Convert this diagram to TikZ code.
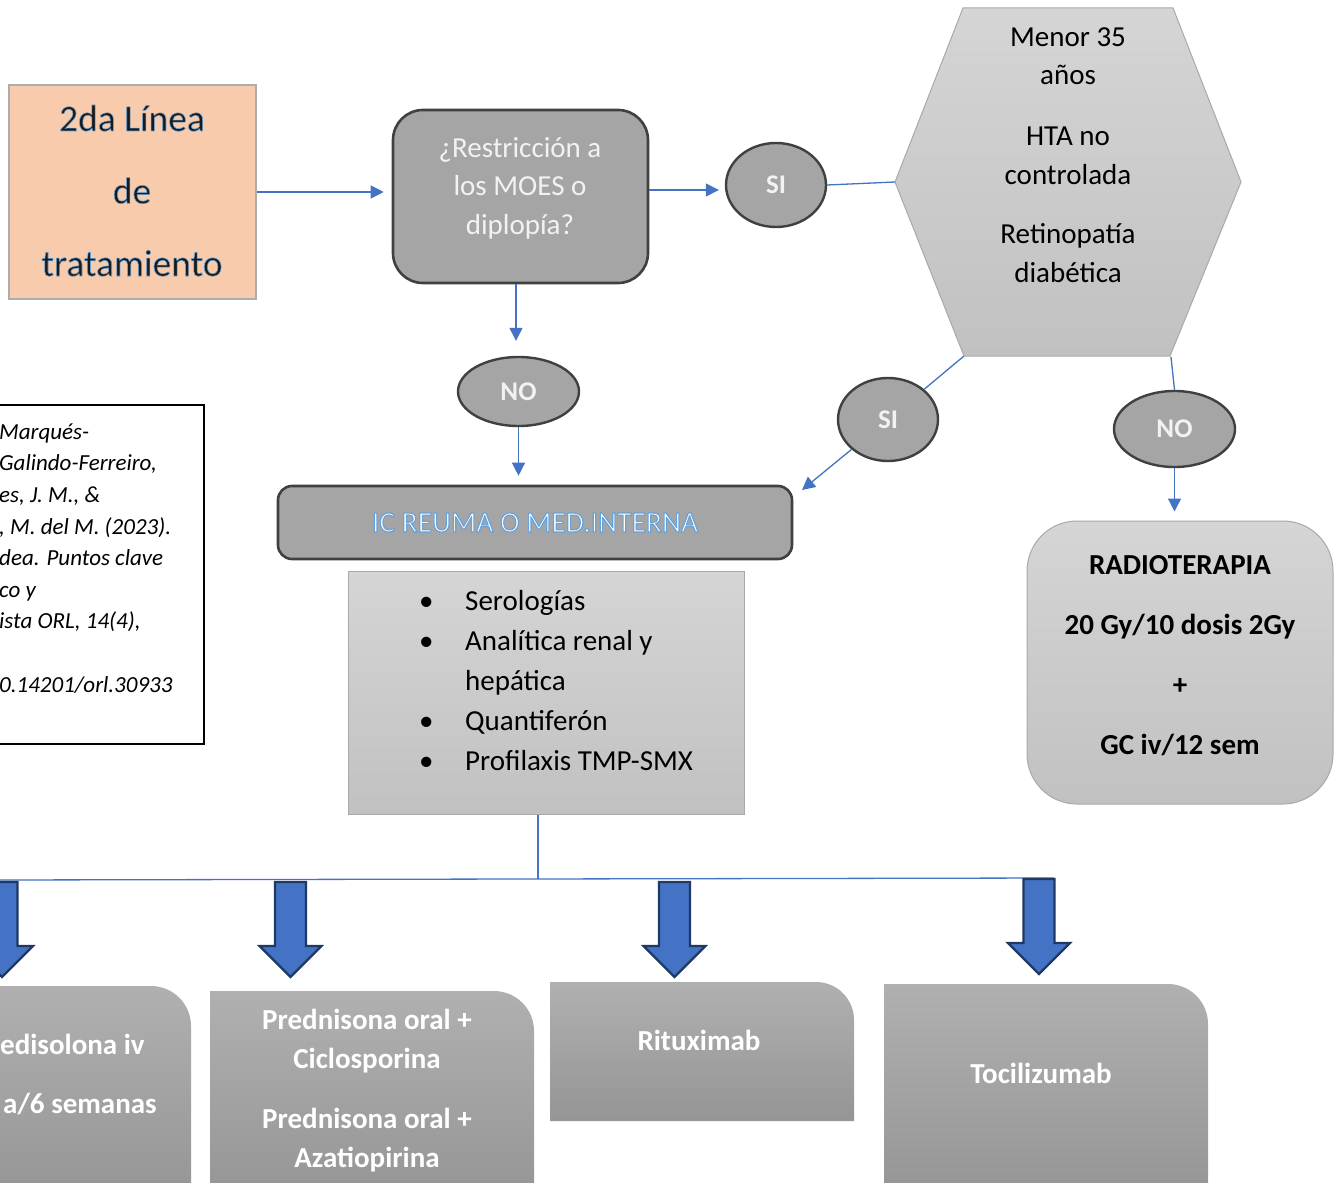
\documentclass[tikz,border=0pt]{standalone}
\usepackage{fontspec}
\setmainfont{Carlito}
\usetikzlibrary{shapes.geometric,arrows.meta}
\definecolor{peach}{HTML}{F8CBAD}
\definecolor{peachline}{HTML}{ADADAD}
\definecolor{cblue}{HTML}{4472C4}
\definecolor{navy}{HTML}{1F3864}
\definecolor{mgray}{HTML}{A5A5A5}
\definecolor{dgray}{HTML}{404040}
\definecolor{lgtop}{HTML}{D5D5D5}
\definecolor{lgbot}{HTML}{C1C1C1}
\definecolor{lgline}{HTML}{A9A9A9}
\definecolor{btop}{HTML}{B0B0B0}
\definecolor{bbot}{HTML}{959595}
\definecolor{wtext}{HTML}{F2F2F2}
\definecolor{ttext}{HTML}{1A1A1A}
\definecolor{icfill}{HTML}{FFFFFF}
\newcommand{\bluegl}[2]{{\special{pdf:literal direct 0.40 0.64 0.86 RG #1 w 1 j 2 Tr}#2\special{pdf:literal direct 0 Tr}}}
\begin{document}
\begin{tikzpicture}[x=1pt,y=-1pt,
  conn/.style={draw=cblue,line width=1.3pt},
  arr/.style={conn,-{Triangle[length=13pt,width=13pt]}},
  oval/.style={ellipse,draw=dgray,line width=2.4pt,fill=mgray,inner sep=0,text=wtext,font=\bfseries\fontsize{27}{30}\selectfont},
  darkbox/.style={draw=dgray,line width=2.6pt,fill=mgray,inner sep=0},
  lightbox/.style={draw=lgline,line width=1pt,top color=lgtop,bottom color=lgbot,inner sep=0},
  barrow/.style={fill=cblue,draw=navy,line width=2.2pt,line join=miter},
  bbox/.style={top color=btop,bottom color=bbot},
  btext/.style={inner sep=0,text=white,font=\bfseries\fontsize{29}{39}\selectfont}]
\useasboundingbox (0,0) rectangle (1337,1182);
\clip (0,0) rectangle (1337,1182);

% title
\node[draw=peachline,line width=1.2pt,fill=peach,minimum width=247pt,minimum height=214pt,inner sep=0] (title) at (132.5,192) {};
\node[anchor=base,align=center,inner sep=0,text=ttext,font=\fontsize{37.5}{72.5}\selectfont] (titlet) at (132,276) {\bluegl{0.6}{2da Línea}\\\bluegl{0.6}{de}\\\bluegl{0.6}{tratamiento}};

% decision
\node[darkbox,rounded corners=30pt,minimum width=255pt,minimum height=173pt] (q) at (520.5,196.5) {};
\node[anchor=base,align=center,inner sep=0,text=wtext,font=\fontsize{29}{38.5}\selectfont] (qt) at (520,234) {¿Restricción a\\los MOES o\\diplopía?};

% ovals
\node[oval,minimum width=100pt,minimum height=84pt] (si1) at (776,185) {SI};
\node[oval,minimum width=121pt,minimum height=69pt] (no1) at (518.5,391.5) {NO};
\node[oval,minimum width=100pt,minimum height=83pt] (si2) at (888,419.5) {SI};
\node[oval,minimum width=121pt,minimum height=76pt] (no2) at (1174.5,429) {NO};

% hexagon
\coordinate (hexL) at (895,182);
\coordinate (hexBL) at (964,356);
\coordinate (hexB) at (1171,357);
\path[draw=lgline,line width=1pt,top color=lgtop,bottom color=lgbot] (963,8) -- (1173,8) -- (1241,182) -- (1170,356) -- (hexBL) -- (hexL) -- cycle;
\node[anchor=base,align=center,inner sep=0,font=\fontsize{29}{39}\selectfont] (hex) at (1068,282) {Menor 35\\años\\[21pt]HTA no\\controlada\\[20pt]Retinopatía\\diabética};

% radiotherapy
\node[lightbox,rounded corners=50pt,minimum width=306pt,minimum height=283pt] (radio) at (1180,662.5) {};
\node[anchor=base,align=center,inner sep=0,font=\bfseries\fontsize{29}{60}\selectfont] (radiot) at (1180,754) {RADIOTERAPIA\\20 Gy/10 dosis 2Gy\\+\\GC iv/12 sem};

% IC box
\node[darkbox,rounded corners=14pt,minimum width=514pt,minimum height=73pt,text=icfill,font=\fontsize{29.5}{32}\selectfont] (ic) at (535,522.5) {\bluegl{1.2}{IC REUMA O MED.INTERNA}};

% list
\node[lightbox,minimum width=396pt,minimum height=243pt] (list) at (546,692.5) {};
\node[anchor=base west,align=left,inner sep=0,font=\fontsize{29}{40}\selectfont] (listt) at (419,770) {\makebox[46pt][l]{•}Serologías\\\makebox[46pt][l]{•}Analítica renal y\\\hspace*{46pt}hepática\\\makebox[46pt][l]{•}Quantiferón\\\makebox[46pt][l]{•}Profilaxis TMP-SMX};

% citation
\node[draw=black,line width=1.4pt,fill=white,minimum width=230pt,minimum height=339pt,inner sep=0] (cite) at (89,574.5) {};
\node[anchor=base west,align=left,inner sep=0,font=\itshape\fontsize{23}{31.6}\selectfont] (citet) at (-1,692) {Marqués-\\Galindo-Ferreiro,\\es, J. M., \&\\, M. del M. (2023).\\dea. Puntos clave\\co y\\ista ORL, 14(4),\\[31.6pt]0.14201/orl.30933};

% connectors
\draw[arr,shorten >=8pt] (title.east) -- (title.east -| q.west);
\draw[arr,shorten >=6pt] ([yshift=6.5pt]q.east) -- ([yshift=6.5pt]q.east -| si1.west);
\draw[conn] (si1.east) -- (hexL);
\draw[arr,shorten >=15pt] ([xshift=-4.5pt]q.south) -- ([xshift=-4.5pt]q.south |- no1.north);
\draw[arr,shorten >=9pt] (no1.south) -- (no1.south |- ic.north);
\draw[conn] (hexBL) -- (si2);
\coordinate (ictip) at (802,490);
\draw[arr] (si2) -- (ictip);
\draw[conn] (hexB) -- (no2.north);
\draw[arr,shorten >=9pt] (no2.south) -- (no2.south |- radio.north);

% bus
\coordinate (bus) at (538,879);
\draw[conn] (bus |- list.south) -- (bus);
\coordinate (busL) at (-5,880);
\coordinate (busR) at (1054,878);
\draw[conn] (busL) -- (busR);

% block arrows
\coordinate (a1) at (2,882);
\coordinate (a2) at (290.5,882);
\coordinate (a3) at (674.5,882);
\coordinate (a4) at (1039,879);
\foreach \a in {a1,a2,a3,a4}
  \draw[barrow,shift={(\a)}] (-15.5,0) -- (15.5,0) -- (15.5,64) -- (31,64) -- (0,95) -- (-31,64) -- (-15.5,64) -- cycle;

% bottom boxes
\path[bbox] (-40,1200) -- (-40,986) -- (151,986) arc[start angle=90,end angle=0,radius=40pt] -- (191,1200) -- cycle;
\path[bbox] (210,1200) -- (210,991) -- (494,991) arc[start angle=90,end angle=0,radius=40pt] -- (534,1200) -- cycle;
\path[bbox] (550,1121) -- (550,982) -- (816,982) arc[start angle=90,end angle=0,radius=38pt] -- (854,1121) -- cycle;
\path[bbox] (884,1200) -- (884,984) -- (1168,984) arc[start angle=90,end angle=0,radius=40pt] -- (1208,1200) -- cycle;

\node[btext,anchor=base west] (b1a) at (0,1054) {edisolona iv};
\node[btext,anchor=base west] (b1b) at (3,1113) {a/6 semanas};
\node[btext,anchor=base,align=center] (b2) at (367,1167) {Prednisona oral +\\Ciclosporina\\[21pt]Prednisona oral +\\Azatiopirina};
\node[btext,anchor=base] (b3) at (699,1050) {Rituximab};
\node[btext,anchor=base] (b4) at (1041,1083) {Tocilizumab};
\end{tikzpicture}
\end{document}
